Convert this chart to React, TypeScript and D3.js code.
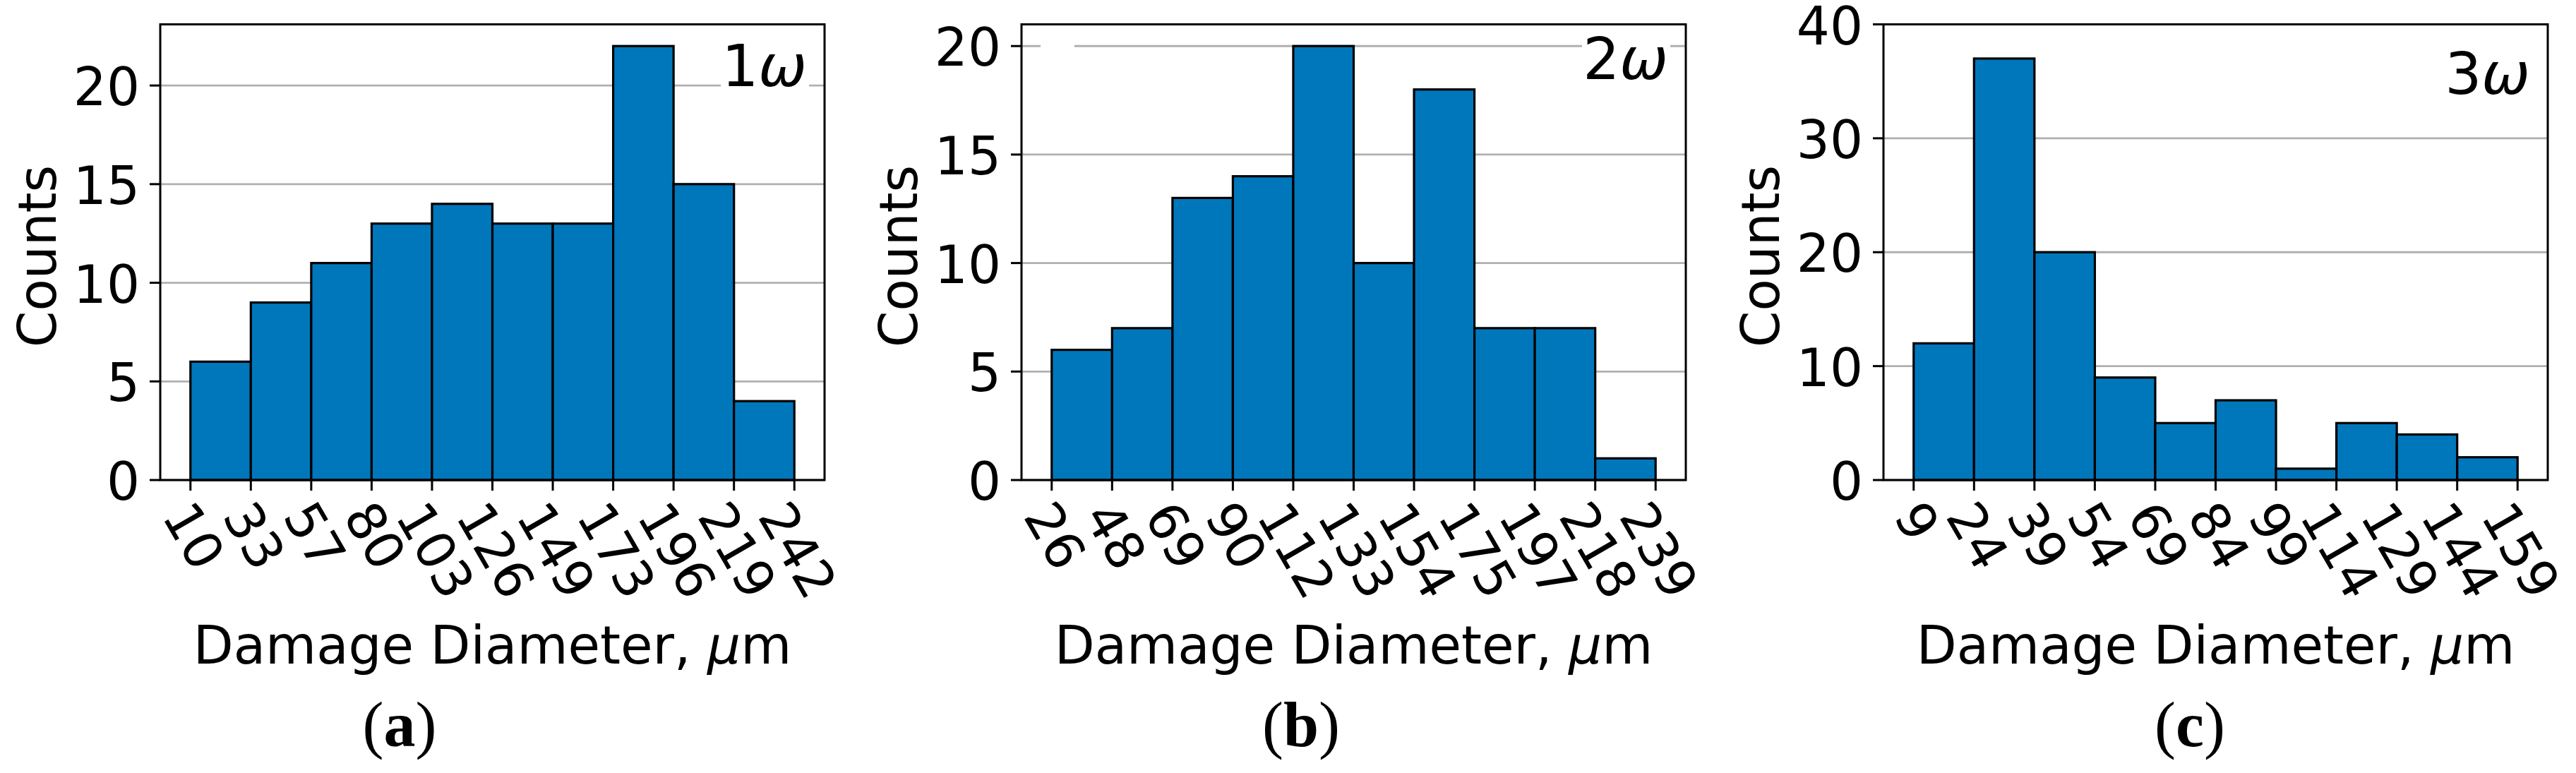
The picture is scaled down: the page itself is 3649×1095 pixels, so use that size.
import React from "react";
import * as d3 from "d3";

// ---------- data ----------
const edgeLabelsA = ["10", "33", "57", "80", "103", "126", "149", "173", "196", "219", "242"];
const countsA = [6, 9, 11, 13, 14, 13, 13, 22, 15, 4];
const edgeLabelsB = ["26", "48", "69", "90", "112", "133", "154", "175", "197", "218", "239"];
const countsB = [6, 7, 13, 14, 20, 10, 18, 7, 7, 1];
const edgeLabelsC = ["9", "24", "39", "54", "69", "84", "99", "114", "129", "144", "159"];
const countsC = [12, 37, 20, 9, 5, 7, 1, 5, 4, 2];
const yTicksA = [0, 5, 10, 15, 20];
const yTicksB = [0, 5, 10, 15, 20];
const yTicksC = [0, 10, 20, 30, 40];
const yMaxes = [23.1, 21, 40];
const harmonicLabels = ["1", "2", "3"];
const panelLetters = ["a", "b", "c"];
const xAxisTitle = "Damage Diameter, ";
const yAxisTitle = "Counts";

// ---------- layout / style ----------
const W = 3649;
const H = 1095;
const AX_LEFTS = [227, 1447, 2668];
const AX_W = 941;
const AX_TOP = 34.5;
const AX_BOTTOM = 680;
const FS = 74;
const BAR_COLOR = "#0077bb";
const GRID_COLOR = "#b0b0b0";
const TICK_LEN = 15;
const ROT = 60;
const ANNOT_BASELINES = [122, 112, 133];
const LETTER_CX = [566, 1843, 3102];
const LETTER_BASELINE = 1057;

const panels = [
  { edges: edgeLabelsA, counts: countsA, yTicks: yTicksA },
  { edges: edgeLabelsB, counts: countsB, yTicks: yTicksB },
  { edges: edgeLabelsC, counts: countsC, yTicks: yTicksC },
];

function Panel({ idx }: { idx: number }) {
  const p = panels[idx];
  const left = AX_LEFTS[idx];
  const right = left + AX_W;
  const n = p.counts.length;
  const x = d3.scaleLinear().domain([-0.05 * n, n * 1.05]).range([left, right]);
  const y = d3.scaleLinear().domain([0, yMaxes[idx]]).range([AX_BOTTOM, AX_TOP]);
  const cx = (left + right) / 2;

  const a = 0.76 * FS;
  const dsc = 0.208 * FS;
  const cs = Math.cos((ROT * Math.PI) / 180);
  const sn = Math.sin((ROT * Math.PI) / 180);
  const labelTop = AX_BOTTOM + TICK_LEN + 8;

  const annotEnd = right - 25;
  const annotBase = ANNOT_BASELINES[idx];

  return (
    <g>
      {/* grid */}
      {p.yTicks.map((t) => (
        <line key={"g" + t} x1={left} x2={right} y1={y(t)} y2={y(t)} stroke={GRID_COLOR} strokeWidth={2.8} />
      ))}
      {idx === 1 && (
        <rect x={left + 27} y={y(20) - 4} width={48} height={8} fill="#ffffff" />
      )}
      {/* bars */}
      {p.counts.map((c, i) => (
        <rect
          key={"b" + i}
          x={x(i)}
          y={y(c)}
          width={x(i + 1) - x(i)}
          height={y(0) - y(c)}
          fill={BAR_COLOR}
          stroke="#000"
          strokeWidth={3.2}
        />
      ))}
      {/* spines */}
      <rect x={left} y={AX_TOP} width={AX_W} height={AX_BOTTOM - AX_TOP} fill="none" stroke="#000" strokeWidth={3} />
      {/* y ticks */}
      {p.yTicks.map((t) => (
        <g key={"yt" + t}>
          <line x1={left - TICK_LEN} x2={left} y1={y(t)} y2={y(t)} stroke="#000" strokeWidth={3} />
          <text x={left - TICK_LEN - 14} y={y(t) + 28} textAnchor="end" fontSize={FS} fontFamily="DejaVu Sans" fill="#000">
            {t}
          </text>
        </g>
      ))}
      {/* x ticks */}
      {p.edges.map((lab, i) => {
        const tx = x(i);
        const w = lab.length * 0.636 * FS;
        const ox = tx - (cs * w + sn * (a - dsc)) / 2;
        const oy = labelTop + cs * a;
        return (
          <g key={"xt" + i}>
            <line x1={tx} x2={tx} y1={AX_BOTTOM} y2={AX_BOTTOM + TICK_LEN} stroke="#000" strokeWidth={3} />
            <text
              transform={`translate(${ox},${oy}) rotate(${ROT})`}
              fontSize={FS}
              fontFamily="DejaVu Sans"
              fill="#000"
            >
              {lab}
            </text>
          </g>
        );
      })}
      {/* axis titles */}
      <text x={cx} y={940} textAnchor="middle" fontSize={FS} fontFamily="DejaVu Sans" fill="#000">
        {xAxisTitle}
        <tspan fontStyle="italic">μ</tspan>m
      </text>
      <text
        transform={`translate(${left - 148},363) rotate(-90)`}
        textAnchor="middle"
        fontSize={FS}
        fontFamily="DejaVu Sans"
        fill="#000"
      >
        {yAxisTitle}
      </text>
      {/* annotation */}
      <rect x={annotEnd - 122} y={annotBase - 75} width={125} height={97} fill="#ffffff" />
      <text x={annotEnd} y={annotBase} textAnchor="end" fontSize={82} fontFamily="DejaVu Sans" fill="#000">
        {harmonicLabels[idx]}
        <tspan fontStyle="italic">ω</tspan>
      </text>
      {/* panel letter */}
      <text
        x={LETTER_CX[idx]}
        y={LETTER_BASELINE}
        textAnchor="middle"
        fontSize={90}
        fontFamily="Liberation Serif"
        fill="#000"
      >
        (<tspan fontWeight="bold">{panelLetters[idx]}</tspan>)
      </text>
    </g>
  );
}

export default function App() {
  return (
    <svg
      width={W}
      height={H}
      viewBox={`0 0 ${W} ${H}`}
      style={{ position: "absolute", left: 0, top: 0, background: "#fff" }}
    >
      <rect x={0} y={0} width={W} height={H} fill="#fff" />
      {[0, 1, 2].map((i) => (
        <Panel key={i} idx={i} />
      ))}
    </svg>
  );
}
